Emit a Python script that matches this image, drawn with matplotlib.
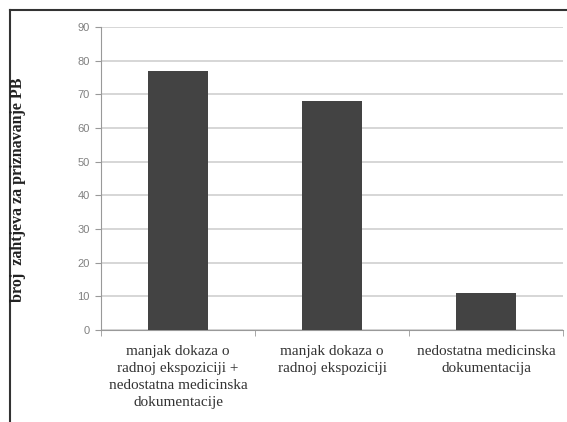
import numpy as np
import matplotlib.pyplot as plt
from matplotlib.lines import Line2D

# data
categories = ["manjak dokaza o\nradnoj ekspoziciji +\nnedostatna medicinska\ndokumentacije",
              "manjak dokaza o\nradnoj ekspoziciji",
              "nedostatna medicinska\ndokumentacija"]
values = [77, 68, 11]
yticks = [0, 10, 20, 30, 40, 50, 60, 70, 80, 90]

W, H = 567, 422
fig = plt.figure(figsize=(W / 100, H / 100), dpi=100)
ax = fig.add_axes([101 / W, 1 - 330 / H, (563 - 101) / W, (330 - 27) / H])

x = np.arange(len(categories))
ax.bar(x, values, width=0.39, color="#434343", zorder=3)

ax.set_xlim(-0.5, len(categories) - 0.5)
ax.set_ylim(0, 90)
ax.set_yticks(yticks)
ax.set_yticklabels([str(t) for t in yticks], color="#808080", fontsize=8,
                   family="Liberation Sans")
ax.yaxis.grid(True, color="#d0d0d0", linewidth=1.2, zorder=0)

ax.set_xticks(x)
ax.set_xticklabels(categories, family="Liberation Serif", fontsize=11,
                   color="#333333", linespacing=1.38)
ax.tick_params(axis="x", length=0, pad=11)
ax.set_xticks(np.arange(len(categories) + 1) - 0.5, minor=True)
ax.tick_params(axis="x", which="minor", length=4, color="#999999")
ax.tick_params(axis="y", length=4, color="#999999", pad=4)

for s in ["top", "right"]:
    ax.spines[s].set_visible(False)
for s in ["left", "bottom"]:
    ax.spines[s].set_color("#999999")

fig.text(18 / W, 1 - 190 / H, "broj  zahtjeva za priznavanje PB", rotation=90,
         ha="center", va="center", family="Liberation Serif", fontsize=11.5,
         fontweight="bold", color="#222222")

# outer frame (top and left only)
fig.add_artist(Line2D([10 / W, 10 / W], [0, 1 - 10 / H], color="#333333", linewidth=1.5))
fig.add_artist(Line2D([10 / W, 1], [1 - 10 / H, 1 - 10 / H], color="#333333", linewidth=1.5))

plt.savefig("out.png")
plt.close()
